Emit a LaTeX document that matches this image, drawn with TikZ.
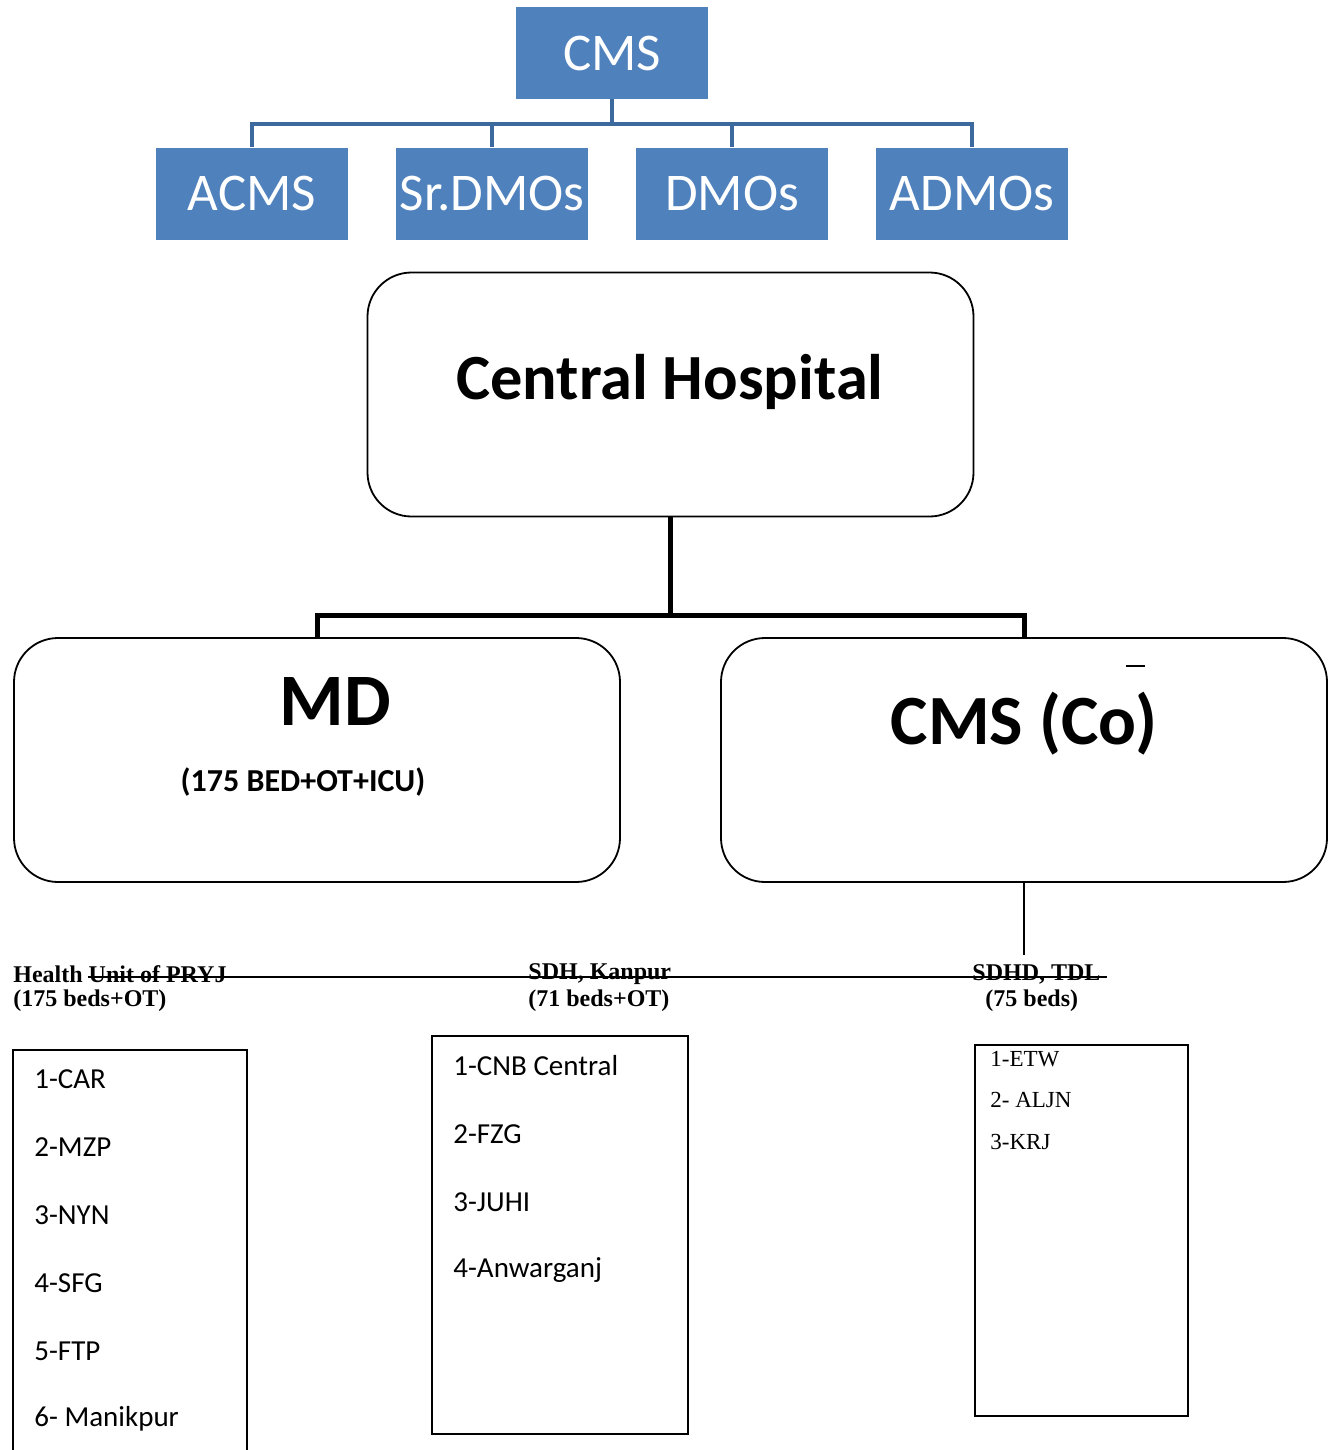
\documentclass[tikz,border=0pt]{standalone}
\usepackage{fontspec}
\setmainfont{Carlito}
\newfontfamily\timesfont{Liberation Serif}
\definecolor{boxblue}{RGB}{79,129,189}
\definecolor{lineblue}{RGB}{61,106,158}
\tikzset{
  bluebox/.style={fill=boxblue, text=white, minimum width=96pt, minimum height=46pt,
    inner sep=0pt, font=\fontsize{26.5}{30}\selectfont},
  bluelink/.style={draw=lineblue, line width=2pt},
  roundbox/.style={draw, line width=0.9pt, rounded corners=22pt,
    minimum width=303pt, minimum height=122pt},
  unitlabel/.style={anchor=west, inner sep=0pt, font=\timesfont\bfseries\fontsize{12}{14}\selectfont},
  listbox/.style={draw, line width=0.9pt, inner sep=0pt},
  sansitem/.style={anchor=west, inner sep=0pt, font=\fontsize{14.5}{17}\selectfont},
  serifitem/.style={anchor=west, inner sep=0pt, font=\timesfont\fontsize{11.5}{13}\selectfont},
}

\begin{document}
\begin{tikzpicture}[x=0.5pt, y=-0.5pt]
  \useasboundingbox (0,0) rectangle (1335,1450);

  % top chart
  \node[bluebox] (cms) at (612,53) {CMS};
  \node[bluebox] (acms) at (252,193.5) {ACMS};
  \node[bluebox] (srdmo) at (492,193.5) {Sr.DMOs};
  \node[bluebox] (dmo) at (732,193.5) {DMOs};
  \node[bluebox] (admo) at (972,193.5) {ADMOs};
  \foreach \n in {acms,srdmo,dmo,admo}
    \draw[bluelink] (cms.south) -- ++(0,25) -| (\n.north);

  % central hospital
  \node[roundbox] (ch) at (670.5,394.5) {};
  \node[font=\bfseries\fontsize{32.2}{37}\selectfont] (chtext) at (670,382) {Central Hospital};

  % MD and CMS (Co)
  \node[roundbox] (md) at (317,760) {};
  \node[font=\bfseries\fontsize{37}{42}\selectfont] (mdtext) at (335,701) {MD};
  \node[font=\bfseries\fontsize{16}{19}\selectfont] (mdbeds) at (303,782) {(175 BED+OT+ICU)};
  \node[roundbox] (cmsco) at (1024,760) {};
  \node[font=\bfseries\fontsize{35.3}{40}\selectfont] (cmscotext) at (1024,724) {CMS (Co)};
  \draw[line width=0.8pt] (1126,666) -- (1145,666);

  \draw[line width=2.5pt] (ch.south) -- ++(0,98) -| (md.north);
  \draw[line width=2.5pt] (ch.south) -- ++(0,98) -| (cmsco.north);

  % units
  \node[unitlabel] (hu) at (13,974) {Health Unit of PRYJ};
  \node[unitlabel] (hubeds) at (13,1001) {(175 beds+OT)};
  \node[unitlabel] (sdh) at (528,974) {SDH, Kanpur};
  \node[unitlabel] (sdhbeds) at (528,1001) {(71 beds+OT)};
  \node[unitlabel] (sdhd) at (972,974) {SDHD, TDL};
  \node[unitlabel] (sdhdbeds) at (985,1001) {(75 beds)};

  \coordinate (drop) at (1024,955);
  \coordinate (lineL) at (88,977);
  \coordinate (lineR) at (1107,977);
  \draw[line width=0.8pt] (cmsco.south) -- (drop);
  \draw[line width=1pt] (lineL) -- (lineR);

  % lists
  \draw[line width=0.9pt] (13,1460) -- (13,1050) -- (247,1050) -- (247,1460);
  \foreach \t [count=\i] in {1-CAR,2-MZP,3-NYN,4-SFG,5-FTP,6- Manikpur}
    \node[sansitem] (a\i) at (34,1011+68*\i) {\t};

  \node[listbox, minimum width=128pt, minimum height=199pt] (list2) at (560,1235) {};
  \foreach \t [count=\i] in {1-CNB Central,2-FZG,3-JUHI,4-Anwarganj}
    \node[sansitem] (b\i) at (453,998+68*\i) {\t};

  \node[listbox, minimum width=106.5pt, minimum height=185.5pt] (list3) at (1081.5,1230.5) {};
  \node[serifitem] (c1) at (990,1059) {1-ETW};
  \node[serifitem] (c2) at (990,1100) {2- ALJN};
  \node[serifitem] (c3) at (990,1142) {3-KRJ};
\end{tikzpicture}
\end{document}
